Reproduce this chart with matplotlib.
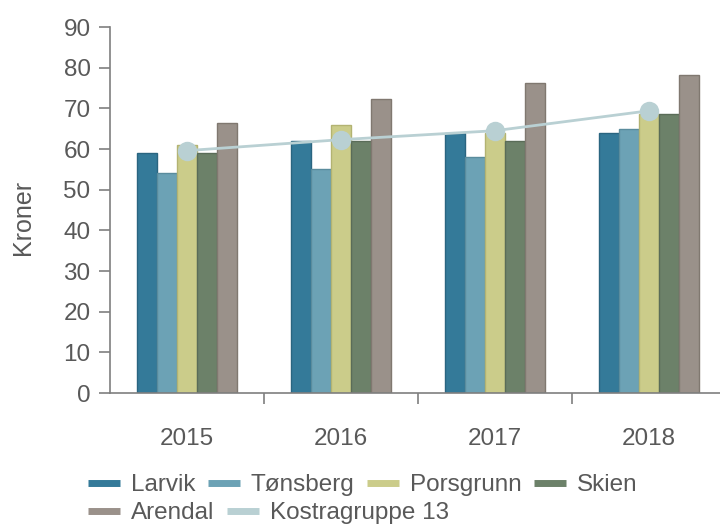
import numpy as np
import matplotlib
matplotlib.use("Agg")
import matplotlib.pyplot as plt
from matplotlib.lines import Line2D

plt.rcParams['font.family'] = ['Liberation Sans', 'DejaVu Sans']

years = ['2015', '2016', '2017', '2018']
larvik = [59, 62, 64, 64]
tonsberg = [54, 55, 58, 65]
porsgrunn = [61, 66, 64, 68.5]
skien = [59, 62, 62, 68.5]
arendal = [66.3, 72.2, 76.2, 78.1]
kostra = [59.6, 62.3, 64.5, 69.4]

bar_names = ['Larvik', 'Tønsberg', 'Porsgrunn', 'Skien', 'Arendal']
bar_series = [larvik, tonsberg, porsgrunn, skien, arendal]
fills = ['#347a99', '#6ca2b5', '#cbcc8a', '#6c8169', '#9a918a']
edges = ['#2a6580', '#5a8c9d', '#b3b372', '#5a6c58', '#807870']
line_color = '#b9d0d3'
text_color = '#595959'
axis_color = '#7f7f7f'

fig = plt.figure(figsize=(7.2, 5.26), dpi=100)
ax = fig.add_axes([110/720, 133/526, 616/720, 366/526])

x = np.arange(len(years))
w = 0.13
for i, (name, vals) in enumerate(zip(bar_names, bar_series)):
    ax.bar(x + (i - 2) * w, vals, width=w, color=fills[i],
           edgecolor=edges[i], linewidth=1.0, label=name, zorder=2)

ax.plot(x, kostra, color=line_color, lw=2, marker='o', markersize=14,
        markeredgewidth=0, zorder=3, label='Kostragruppe 13')

ax.set_xlim(-0.5, 3.5)
ax.set_ylim(0, 90)
ax.set_yticks(range(0, 91, 10))

# year labels at the middle, tick marks between the groups
ax.set_xticks(x)
ax.set_xticklabels(years)
ax.set_xticks([0.5, 1.5, 2.5], minor=True)
ax.tick_params(axis='x', which='major', length=0, pad=25,
               labelsize=17.5, labelcolor=text_color)
ax.tick_params(axis='x', which='minor', length=8, width=1.2,
               color=axis_color, direction='out')
ax.tick_params(axis='y', length=8, width=1.2, color=axis_color, pad=6,
               labelsize=17.5, labelcolor=text_color)

for side in ['top', 'right']:
    ax.spines[side].set_visible(False)
for side in ['left', 'bottom']:
    ax.spines[side].set_color(axis_color)
    ax.spines[side].set_linewidth(1.2)

fig.text(23/720, 1 - 217/526, 'Kroner', rotation=90, ha='center',
         va='center', fontsize=18, color=text_color)

# legend flows over two rows
handles = [Line2D([], [], color=c, lw=5, solid_capstyle='butt')
           for c in fills + [line_color]]
labels = bar_names + ['Kostragruppe 13']
opts = dict(frameon=False, fontsize=17.5, handlelength=1.32,
            handletextpad=0.45, columnspacing=0.5, borderpad=0,
            borderaxespad=0, loc='center left', labelcolor=text_color)
fig.legend(handles[:4], labels[:4], ncol=4,
           bbox_to_anchor=(88/720, 1 - 485/526), **opts)
fig.legend(handles[4:], labels[4:], ncol=2,
           bbox_to_anchor=(88/720, 1 - 513/526), **opts)

fig.savefig('out.png', dpi=100)
